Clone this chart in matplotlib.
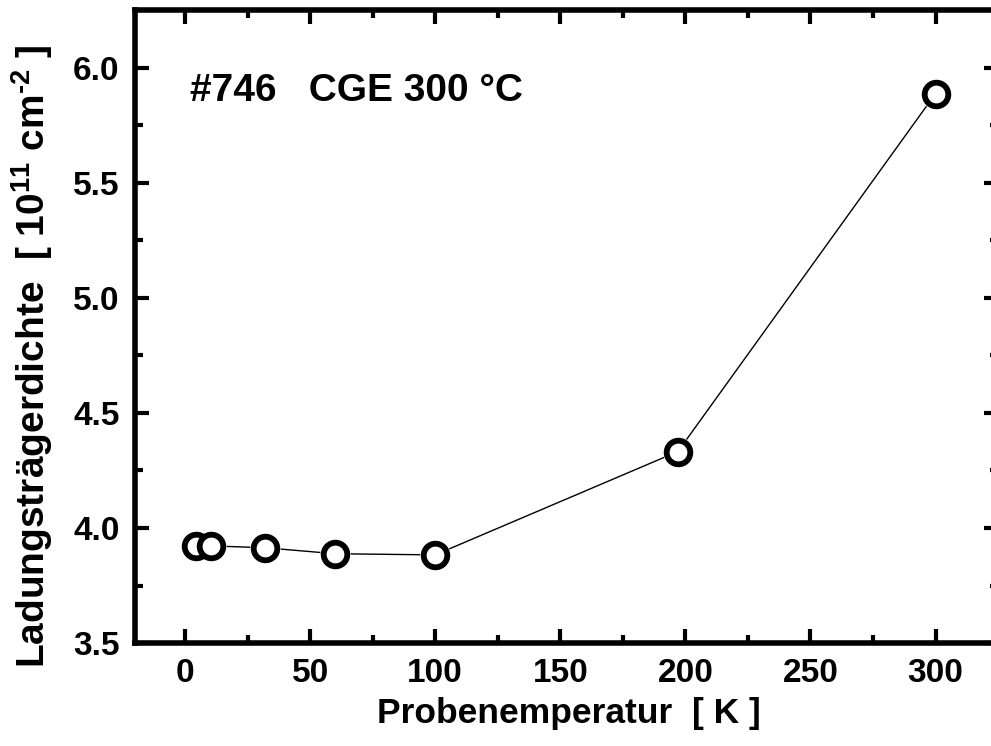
import matplotlib
matplotlib.use("Agg")
import matplotlib.pyplot as plt
from matplotlib.ticker import MultipleLocator, FormatStrFormatter

plt.rcParams['font.family'] = ['Liberation Sans', 'DejaVu Sans']
plt.rcParams['font.weight'] = 'bold'
plt.rcParams['mathtext.fontset'] = 'custom'
plt.rcParams['mathtext.rm'] = 'Liberation Sans:bold'
plt.rcParams['mathtext.default'] = 'rm'

# Sample temperature [K] and sheet carrier density [1e11 cm^-2]
temperature = [4.2, 10.5, 32, 60, 100, 197, 300]
density = [3.92, 3.922, 3.914, 3.888, 3.883, 4.332, 5.887]

fig = plt.figure(figsize=(9.91, 7.46), dpi=100)
ax = fig.add_axes([0.1362, 0.138, 0.871, 0.8486])

ax.plot(temperature, density, color='black', lw=1.0, zorder=2)
# white halo around each marker so the connecting line stops short of it
ax.plot(temperature, density, ls='none', marker='o', ms=22, mfc='white',
        mec='white', mew=0, zorder=3)
ax.plot(temperature, density, ls='none', marker='o', ms=17, mfc='white',
        mec='black', mew=4.2, zorder=4)

ax.set_xlim(-20, 325)
ax.set_ylim(3.5, 6.25)
ax.xaxis.set_major_locator(MultipleLocator(50))
ax.xaxis.set_minor_locator(MultipleLocator(25))
ax.yaxis.set_major_locator(MultipleLocator(0.5))
ax.yaxis.set_minor_locator(MultipleLocator(0.25))
ax.yaxis.set_major_formatter(FormatStrFormatter('%.1f'))

for s in ax.spines.values():
    s.set_linewidth(4.0)
ax.tick_params(which='both', direction='in', top=True, right=True,
               width=3.0, labelsize=24)
ax.tick_params(axis='x', which='both', pad=11)
ax.tick_params(axis='y', which='both', pad=11)
ax.tick_params(which='major', length=10)
ax.tick_params(which='minor', length=5.5)

ax.set_xlabel('Probenemperatur  [ K ]', fontsize=25.5, fontweight='bold')
ax.xaxis.set_label_coords(0.503, -0.085)
ax.set_ylabel('Ladungsträgerdichte  [ 10$^{11}$ cm$^{\u2010 2}$ ]', fontsize=28,
              fontweight='bold')
ax.yaxis.set_label_coords(-0.093, 0.453)

ax.text(2, 5.897, '#746   CGE 300 °C', fontsize=28, fontweight='bold',
        ha='left', va='center')

fig.savefig('out.png', dpi=100)
